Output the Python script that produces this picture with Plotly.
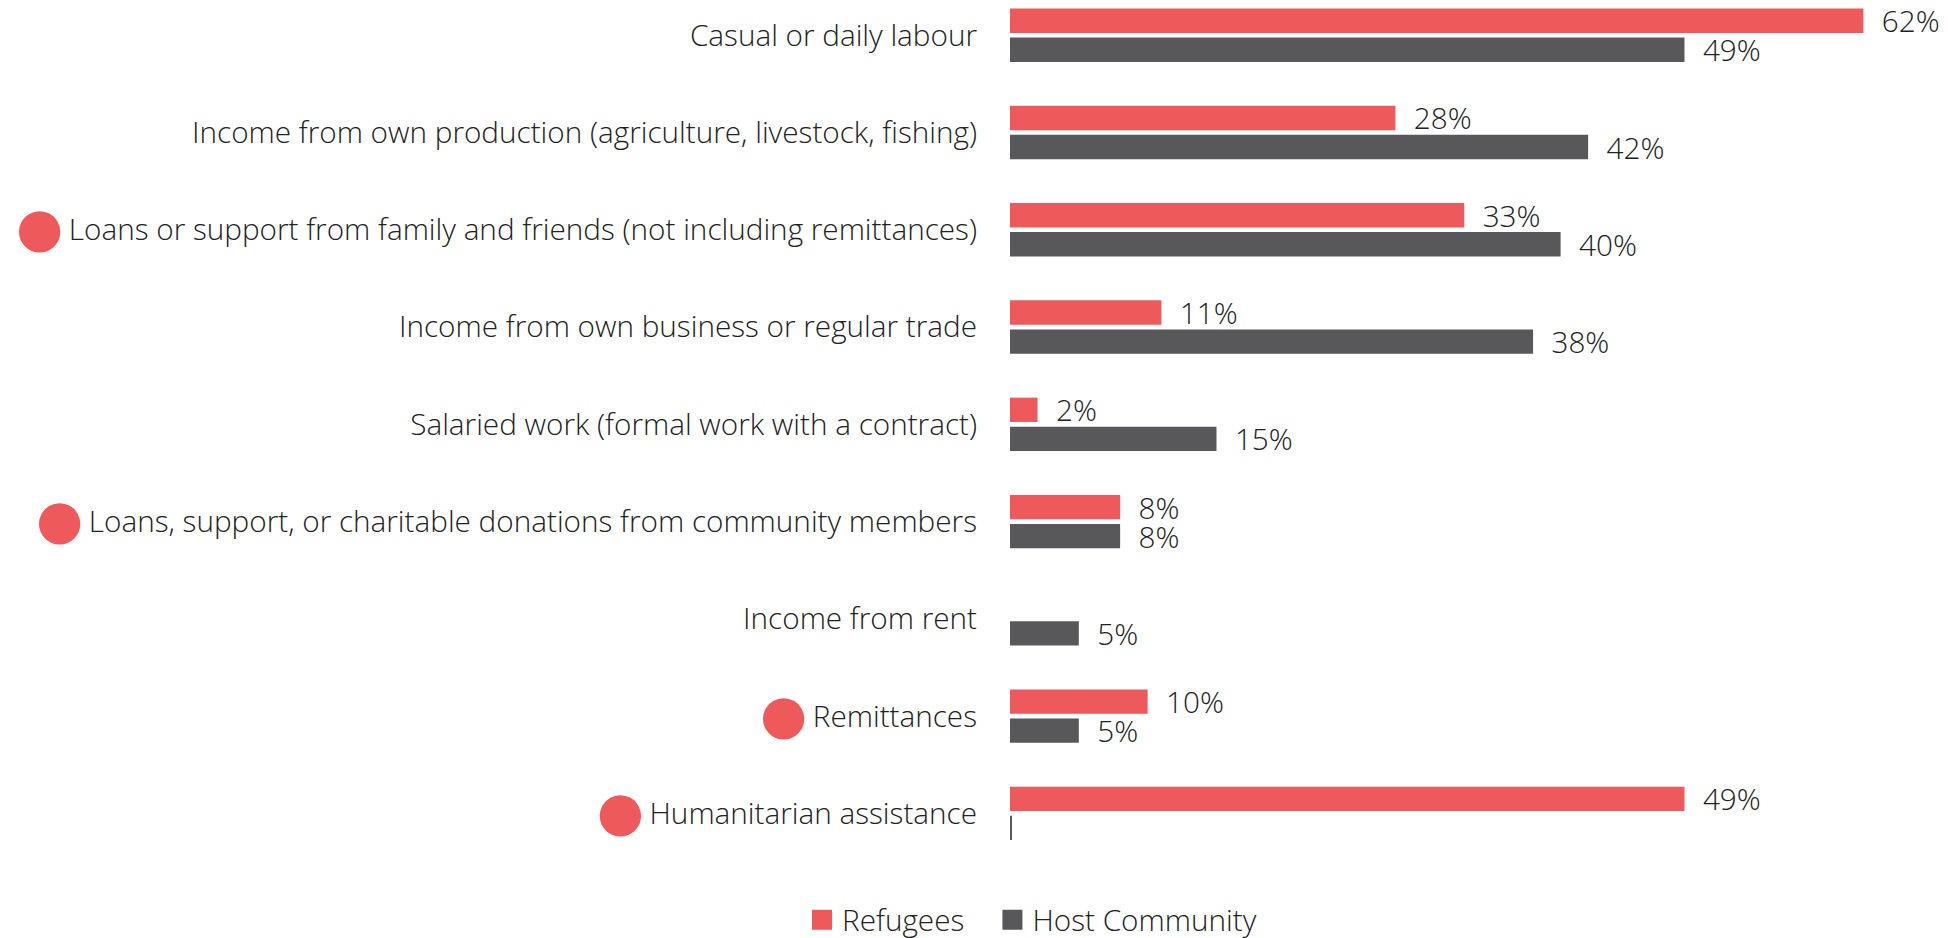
import plotly.graph_objects as go

categories = [
    "Casual or daily labour",
    "Income from own production (agriculture, livestock, fishing)",
    "Loans or support from family and friends (not including remittances)",
    "Income from own business or regular trade",
    "Salaried work (formal work with a contract)",
    "Loans, support, or charitable donations from community members",
    "Income from rent",
    "Remittances",
    "Humanitarian assistance",
]
flagged = [False, False, True, False, False, True, False, True, True]
refugees = [62, 28, 33, 11, 2, 8, None, 10, 49]
host = [49, 42, 40, 38, 15, 8, 5, 5, 0.1]
refugee_labels = ["62%", "28%", "33%", "11%", "2%", "8%", "", "10%", "49%"]
host_labels = ["49%", "42%", "40%", "38%", "15%", "8%", "5%", "5%", ""]
series_names = ["Refugees", "Host Community"]

RED = "#EE5A5B"
GREY = "#58585A"
TXT = "#222222"
FONT = "Open Sans"
FS = 29.7

ticktext = []
for c, f in zip(categories, flagged):
    if f:
        ticktext.append(
            f'<span style="font-size:96px;fill:{RED};baseline-shift:-19px">●</span>{c}'
        )
    else:
        ticktext.append(c)

pad = "\u00a0\u00a0"
tf = dict(family=FONT, size=FS, color=TXT, weight=300)

fig = go.Figure()
for name, vals, labels, col in [
    (series_names[0], refugees, refugee_labels, RED),
    (series_names[1], host, host_labels, GREY),
]:
    fig.add_trace(go.Bar(
        name=name, y=categories, x=vals, orientation="h",
        marker=dict(color=col, line=dict(width=0)),
        text=[pad + t if t else "" for t in labels], textposition="outside",
        textfont=tf, cliponaxis=False, showlegend=False,
        textangle=0, constraintext="none",
    ))

# legend entries (square swatches)
legend_names = [series_names[0] + "\u00a0\u00a0\u00a0", series_names[1]]
for name, col in zip(legend_names, [RED, GREY]):
    fig.add_trace(go.Scatter(
        name=name, x=[None], y=[None], mode="markers",
        marker=dict(symbol="square", size=16, color=col, line=dict(width=4, color=col)),
        showlegend=True,
    ))

fig.update_layout(
    width=1940, height=946,
    margin=dict(l=1002, r=2, t=0, b=92),
    paper_bgcolor="white", plot_bgcolor="white",
    barmode="group", bargap=0.403, bargroupgap=0.162,
    font=tf,
    showlegend=True,
    legend=dict(
        orientation="h", x=-0.2222, xanchor="left", y=-0.0375, yanchor="top",
        font=tf, itemsizing="trace", traceorder="normal",
    ),
    xaxis=dict(range=[0, 68], visible=False, showgrid=False, zeroline=False),
    yaxis=dict(
        type="category", categoryorder="array", categoryarray=categories,
        range=[8.5, -0.28], autorange=False,
        tickmode="array", tickvals=categories, ticktext=ticktext,
        showgrid=False, zeroline=False, showline=False, ticks="",
        ticklabelstandoff=32, automargin=False,
        tickfont=tf,
    ),
)

fig.write_html("out.html")
